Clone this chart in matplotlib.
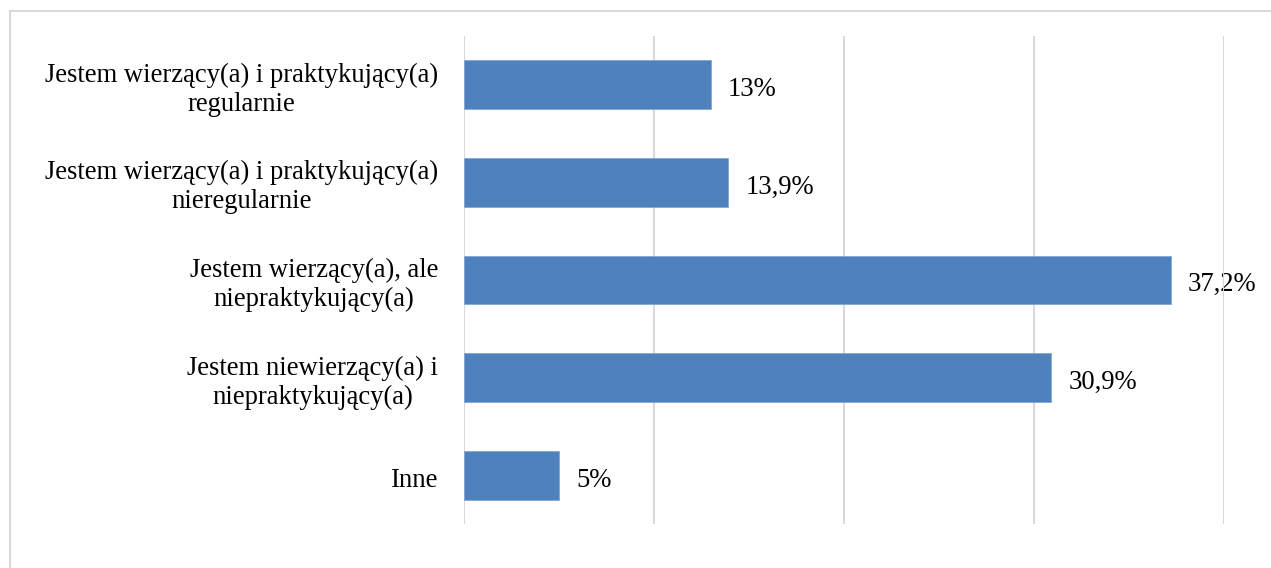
import matplotlib.pyplot as plt
from matplotlib.patches import Rectangle

categories = ['Jestem wierzący(a) i praktykujący(a)\nregularnie',
              'Jestem wierzący(a) i praktykujący(a)\nnieregularnie',
              'Jestem wierzący(a), ale\nniepraktykujący(a)',
              'Jestem niewierzący(a) i\nniepraktykujący(a)',
              'Inne']
values = [13, 13.9, 37.2, 30.9, 5]
value_labels = ['13%', '13,9%', '37,2%', '30,9%', '5%']

plt.rcParams['font.family'] = ['Liberation Serif', 'DejaVu Serif']
FS = 19.2

fig = plt.figure(figsize=(12.71, 5.68), dpi=100)
# plot area in pixels: x 464..1224, y 36..524
ax = fig.add_axes([464/1271, 1 - 524/568, 760/1271, 488/568])

# outer chart border (cut off at right and bottom)
fig.patches.append(Rectangle((10/1271, -0.1), 1.2, (568 - 11)/568 + 0.1,
                             transform=fig.transFigure, fill=False,
                             edgecolor='#d9d9d9', linewidth=1.5))

ypos = list(range(len(categories)))
ax.barh(ypos, values, height=0.5, color='#4F81BD', edgecolor='#7aa2d4', linewidth=0.5, zorder=3)
ax.set_ylim(4.5, -0.5)
ax.set_xlim(0, 40)
ax.set_xticks([0, 10, 20, 30, 40])
ax.grid(axis='x', color='#d9d9d9', linewidth=1.5, zorder=0)
ax.tick_params(axis='both', length=0, labelbottom=False, labelleft=False)
ax.set_yticks(ypos)
for s in ax.spines.values():
    s.set_visible(False)

# category labels: right aligned block, lines centred
for y, c in zip(ypos, categories):
    ax.text(-0.034, y + 0.05, c, transform=ax.get_yaxis_transform(), ha='right', va='center',
            fontsize=FS, linespacing=1.2, multialignment='center', zorder=1)

for y, v, t in zip(ypos, values, value_labels):
    ax.text(v + 0.9, y + 0.05, t, va='center', ha='left', fontsize=FS, zorder=1)

fig.savefig('out.png', dpi=100)
